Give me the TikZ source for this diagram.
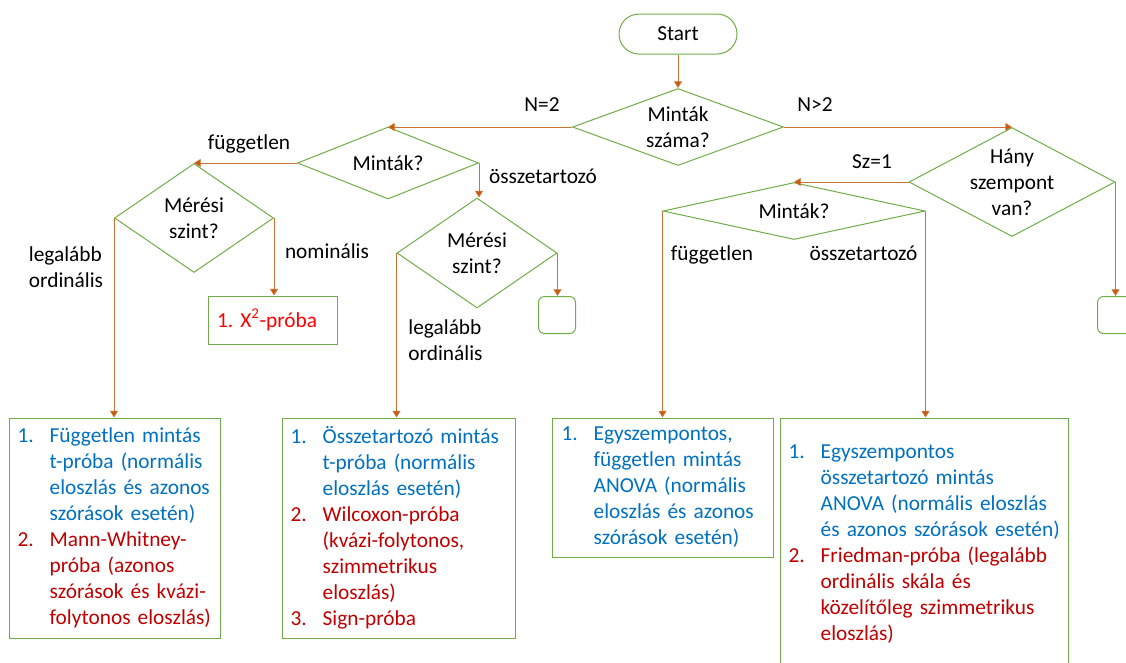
\documentclass[tikz,border=0pt]{standalone}
\usepackage{fontspec}
\setmainfont{Carlito}
\usetikzlibrary{shapes.geometric,arrows.meta}

\definecolor{boxgreen}{HTML}{70AD47}
\definecolor{linkorange}{HTML}{C55A11}
\definecolor{testblue}{HTML}{0070C0}
\definecolor{testred}{HTML}{C00000}
\definecolor{chired}{HTML}{FF0000}

% one line of a numbered list, kept on one line
\newcommand{\li}[2]{\mbox{\makebox[24pt][l]{#1}#2}}

\begin{document}
\begin{tikzpicture}[x=0.75pt,y=-0.75pt,font=\fontsize{16}{19.5}\selectfont]
                \tikzstyle{startstop} = [rectangle, draw=boxgreen, line width=0.75pt, rounded corners=15pt, minimum width=88.5pt, minimum height=30pt]
                \tikzstyle{decision} = [diamond, draw=boxgreen, line width=0.75pt, inner sep=0pt, align=center]
                \tikzstyle{result} = [rectangle, draw=boxgreen, line width=0.75pt, inner xsep=6.5pt, inner ysep=0pt, align=left]
                \tikzstyle{emptybox} = [rectangle, draw=boxgreen, line width=0.75pt, rounded corners=4.5pt, minimum width=27.75pt, minimum height=27.75pt]
                \tikzstyle{branch} = [inner sep=0pt, text height=1.5ex, text depth=.25ex]
                \tikzstyle{arrow} = [linkorange!85!white, line width=0.6pt, -{Triangle[width=6pt,length=5pt,fill=linkorange]}]

                \useasboundingbox (0,0) rectangle (1126,662);

                % decisions
                \node (start) [startstop] at (678,34) {Start};
                \node (q1) [decision, aspect=2.6, minimum width=158.25pt, minimum height=57.75pt] at (678,127) {Minták\\száma?};
                \node (q2) [decision, aspect=2.5, minimum width=135.75pt, minimum height=54pt] at (388,163) {Minták?};
                \node (q3) [decision, aspect=1.4, minimum width=119.25pt, minimum height=81.75pt] at (194,218) {Mérési\\szint?};
                \node (q4) [decision, aspect=1.4, minimum width=120pt, minimum height=82.5pt] at (477,253) {Mérési\\szint?};
                \node (q5) [decision, aspect=1.9, inner sep=-8pt, minimum width=154.5pt, minimum height=81.75pt] at (1012,182) {Hány\\szempont\\van?};
                \node (q6) [decision, aspect=4.6, minimum width=196.5pt, minimum height=42.75pt] at (794,211) {Minták?};

                % tests
                \node (chi) [result, text width=84pt, minimum height=36pt] at (273,320) {\color{chired}1.\ X\textsuperscript{2}-próba};
                \node (end1) [emptybox] at (557,315) {};
                \node (end2) [emptybox] at (1116,315) {};
                \node (resD) [result, text width=145.25pt, minimum height=165pt] at (114.5,528) {%
                  {\color{testblue}\li{1.}{Független mintás}\\\li{}{t-próba (normális}\\\li{}{eloszlás és azonos}\\\li{}{szórások esetén)}}\\
                  {\color{testred}\li{2.}{Mann-Whitney-}\\\li{}{próba (azonos}\\\li{}{szórások és kvázi-}\\\li{}{folytonos eloszlás)}}};
                \node (resE) [result, text width=161.75pt, minimum height=165pt] at (398.5,528) {%
                  {\color{testblue}\li{1.}{Összetartozó mintás}\\\li{}{t-próba (normális}\\\li{}{eloszlás esetén)}}\\
                  {\color{testred}\li{2.}{Wilcoxon-próba}\\\li{}{(kvázi-folytonos,}\\\li{}{szimmetrikus}\\\li{}{eloszlás)}\\\li{3.}{Sign-próba}}};
                \node (resF) [result, text width=152.4pt, minimum height=104.25pt] at (663.25,487.5) {%
                  {\color{testblue}\li{1.}{Egyszempontos,}\\\li{}{független mintás}\\\li{}{ANOVA (normális}\\\li{}{eloszlás és azonos}\\\li{}{szórások esetén)}}};
                \node (resG) [result, text width=203pt, minimum height=189pt] at (924,544) {%
                  {\color{testblue}\li{1.}{Egyszempontos}\\\li{}{összetartozó mintás}\\\li{}{ANOVA (normális eloszlás}\\\li{}{és azonos szórások esetén)}}\\
                  {\color{testred}\li{2.}{Friedman-próba (legalább}\\\li{}{ordinális skála és}\\\li{}{közelítőleg szimmetrikus}\\\li{}{eloszlás)}}};

                % branch labels
                \node (lblN2) [branch] at (542,108) {N=2};
                \node (lblN3) [branch] at (815,108) {N>2};
                \node (lblSz) [branch] at (872,165) {Sz=1};
                \node (lblFa) [branch] at (249,146) {független};
                \node (lblOa) [branch] at (543,180) {összetartozó};
                \node (lblNom) [branch] at (327,255) {nominális};
                \node (lblOrdA) [align=left, inner sep=0pt] at (66,267) {legalább\\ordinális};
                \node (lblOrdB) [align=left, inner sep=0pt] at (445.5,340) {legalább\\ordinális};
                \node (lblFb) [branch] at (712,257) {független};
                \node (lblOb) [branch] at (863.5,257) {összetartozó};

                \draw [arrow] (start.south) -- (q1.north);
                \draw [arrow] (q1.west) -- (q1.west -| q2.north);
                \draw [arrow] (q1.east) -- (q1.east -| q5.north);
                \draw [arrow] (q2.west) -- (q2.west -| q3.north);
                \draw [arrow] (q2.east) -- (q2.east |- q4.north);
                \draw [arrow] (q3.west) -- (q3.west |- resD.north);
                \draw [arrow] (q3.east) -- (q3.east |- chi.north);
                \draw [arrow] (q4.west) -- (q4.west |- resE.north);
                \draw [arrow] (q4.east) -- (q4.east |- end1.north);
                \draw [arrow] (q5.west) -- (q5.west -| q6.north);
                \draw [arrow] (q5.east) -- (q5.east |- end2.north);
                \draw [arrow] (q6.west) -- (q6.west |- resF.north);
                \draw [arrow] (q6.east) -- (q6.east |- resG.north);
            \end{tikzpicture}
\end{document}
